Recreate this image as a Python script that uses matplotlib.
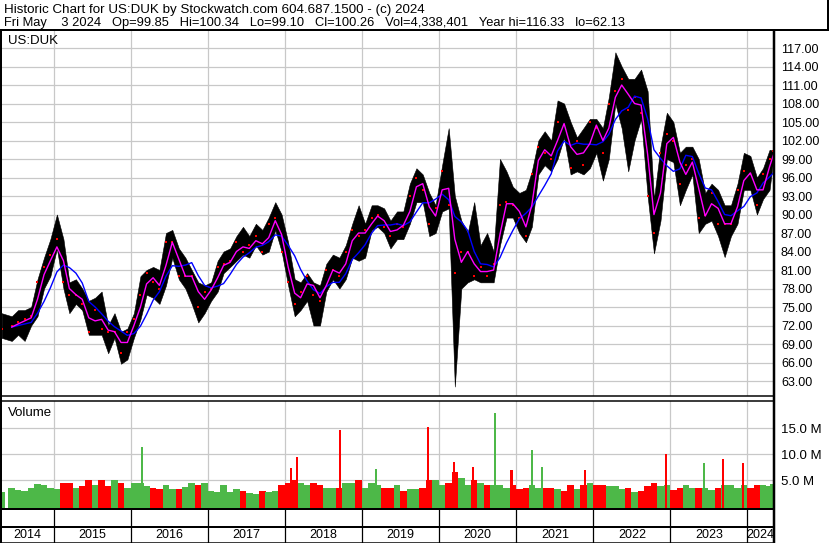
import numpy as np
import pandas as pd
import matplotlib
matplotlib.use("Agg")
import matplotlib.pyplot as plt
from matplotlib.lines import Line2D

plt.rcParams["font.family"] = ["Liberation Sans", "DejaVu Sans"]

W, H = 830, 543

# monthly high / low / close, May 2014 .. May 2024 (last = Fri May 3 2024)
month_hi = [74, 73.5, 74.5, 74.5, 75, 79.5, 83, 86, 90, 86, 79, 79.5,
            78, 76, 76.5, 77.5, 72, 74, 71, 71.5, 74, 80, 81, 81.5,
            81, 87, 87.5, 84.5, 83, 81, 79, 78.5, 79, 82.5, 84, 84.5,
            86.5, 88, 86.5, 88.5, 87.5, 89.5, 92, 90, 85.5, 79.5, 79, 80.5,
            79, 78.5, 82, 83.5, 83, 85, 88.5, 91.5, 88.5, 91.5, 91.5, 91,
            89, 90.5, 90.5, 95, 97.5, 96.5, 93.5, 91.5, 98, 104, 93, 89,
            87, 92, 85, 87, 84, 99, 97, 94.5, 93.5, 94, 97, 102,
            103.5, 102, 108.5, 108, 105, 102.5, 104, 105.5, 105.5, 104, 109, 116.3,
            114, 112, 112, 113.5, 110, 92.5, 101, 106.5, 105, 100, 101, 101,
            99, 93.5, 95, 94, 91.5, 91.5, 95, 100, 99.5, 96, 97.5, 100.5,
            100.34]
month_lo = [70, 69.5, 70.5, 69.5, 72, 73.5, 78, 80, 84.5, 78, 74, 75.5,
            74.5, 70.5, 70.5, 70.5, 67.5, 70, 65.8, 66.5, 70, 73, 77, 76.5,
            75.5, 78.5, 83, 79.5, 78, 75.5, 72.5, 74, 76, 77.5, 80.5, 81.5,
            82.5, 83.5, 83, 85, 83.5, 84, 87.5, 84, 78.5, 73.5, 74.5, 76,
            72, 72, 77.5, 79.5, 78, 79.5, 83, 82.5, 83, 87.5, 88, 87,
            84.5, 86, 86, 88.5, 92, 92, 86.5, 87, 90.5, 91, 62.1, 78,
            79, 79.5, 79, 79, 79, 85, 89.5, 89.5, 87, 85.5, 88, 96.5,
            98, 97, 99, 102.5, 96.5, 97, 96.5, 97.5, 100, 95.5, 99, 108,
            104, 97, 102, 105.5, 93, 83.7, 89, 99, 98.5, 91.5, 94, 96.5,
            87, 88.5, 89, 86.5, 83.1, 86.5, 88.5, 94, 94, 90, 92.5, 94,
            99.10]
month_cl = [71.5, 72, 72.5, 73, 73.5, 79, 81.5, 83.5, 86, 79, 77, 77,
            75.5, 71, 74.5, 71.5, 71, 71, 67.5, 71, 73, 77, 80.5, 79,
            78, 85.5, 85.5, 80, 80, 80, 75, 77.5, 78, 81.5, 82, 82.5,
            85.5, 84, 85, 86.5, 84, 88.5, 89.5, 84, 79, 75.5, 77.5, 80,
            77, 76, 81, 81, 80, 84, 87.5, 86.5, 87.5, 89.5, 90, 88,
            86.5, 88.5, 88, 93, 96, 94, 88.5, 91, 97, 91.5, 80.5, 84,
            84, 80, 81.5, 80, 82, 91.5, 92, 91.5, 89.5, 86.5, 96.5, 101,
            100, 99, 105, 104.5, 97.5, 102, 98, 105, 104, 100, 108, 110,
            112, 107, 109, 106.5, 93, 87, 100, 103, 102, 95, 98, 99,
            89.5, 90, 93.5, 88.5, 88.5, 88.5, 94, 97, 96.5, 91.5, 96.5, 99,
            100.26]
# typical daily volume per month, millions
month_vol = [2.8, 3.5, 3.2, 3.0, 3.5, 4.2, 4.0, 3.5, 3.3, 4.5, 4.5, 3.5,
             3.8, 5.0, 4.0, 5.0, 3.8, 5.0, 4.5, 3.5, 4.5, 4.5, 3.8, 3.5,
             3.3, 4.0, 3.3, 3.3, 3.6, 4.5, 4.0, 4.5, 3.0, 2.8, 4.0, 2.8,
             3.3, 3.0, 2.5, 2.4, 3.0, 2.7, 3.0, 4.0, 4.5, 5.0, 4.5, 4.0,
             4.5, 4.0, 3.5, 3.5, 3.5, 4.5, 4.5, 5.0, 3.5, 4.5, 4.0, 3.5,
             3.5, 4.0, 3.0, 3.3, 3.3, 3.5, 5.0, 5.0, 4.0, 4.5, 6.5, 5.5,
             4.0, 5.0, 4.5, 4.0, 4.0, 4.0, 3.5, 4.0, 3.3, 3.5, 4.0, 3.5,
             3.5, 3.5, 3.3, 3.0, 4.0, 3.3, 4.0, 4.5, 4.0, 4.0, 3.8, 3.8,
             3.3, 3.5, 2.8, 3.0, 3.8, 4.5, 3.8, 4.0, 3.2, 3.5, 4.0, 3.5,
             3.5, 3.5, 3.2, 3.5, 4.0, 4.0, 3.5, 4.0, 3.5, 4.0, 4.0, 3.8,
             4.34]
# single-day volume spikes
spike_dates = ["2016-02-22", "2018-01-30", "2018-02-26", "2018-09-16", "2019-03-09",
               "2019-11-09", "2020-03-13", "2020-06-10", "2020-09-21", "2020-12-09",
               "2021-03-14", "2021-05-04", "2021-11-21", "2022-12-12", "2023-06-11",
               "2023-09-09", "2023-12-09"]
spike_vols = [11.4, 7.4, 9.4, 14.7, 7.2, 15.3, 8.5, 7.6, 17.8, 6.9,
              10.7, 7.6, 6.9, 10.0, 8.2, 9.1, 8.2]
spike_up = [True, False, False, False, True, False, False, False, True, False,
            True, True, False, False, True, False, False]

years = list(range(2014, 2025))
price_ticks = list(range(63, 118, 3))
vol_ticks = [5, 10, 15]

line1 = "Historic Chart for US:DUK by Stockwatch.com 604.687.1500 - (c) 2024"
line2 = ("Fri May    3 2024   Op=99.85   Hi=100.34   Lo=99.10   Cl=100.26   "
         "Vol=4,338,401   Year hi=116.33   lo=62.13")

dates = pd.date_range("2014-05-01", periods=120, freq="MS") + pd.Timedelta(days=14)
dates = dates.insert(120, pd.Timestamp("2024-05-03"))
dates = dates.delete(0).insert(0, pd.Timestamp("2014-04-28"))

cl = pd.Series(month_cl)
ma_fast = cl.rolling(2, min_periods=2).mean()
ma_slow = cl.rolling(5, min_periods=2).mean()

x0d, x1d = pd.Timestamp("2014-04-25"), pd.Timestamp("2024-05-06")
bounds = [pd.Timestamp(f"{y}-01-01") for y in years[1:]]

GRID = "#c8c8c8"
RED, GREEN = "#ff0000", "#4db848"
FS = 9


def rect(x0, y0, x1, y1):
    return [x0 / W, 1 - y1 / H, (x1 - x0) / W, (y1 - y0) / H]


def fline(xs, ys, lw):
    fig.add_artist(Line2D([x / W for x in xs], [1 - y / H for y in ys],
                          color="k", lw=lw * 0.72, solid_capstyle="butt"))


fig = plt.figure(figsize=(W / 100, H / 100), dpi=100)
ax = fig.add_axes(rect(1, 31, 774, 396))
axv = fig.add_axes(rect(1, 401, 774, 508))
axy = fig.add_axes(rect(1, 509, 774, 543))

for a in (ax, axv, axy):
    a.set_xlim(x0d, x1d)
    for s in a.spines.values():
        s.set_visible(False)
    a.set_xticks(bounds)
    a.tick_params(axis="x", length=0, labelbottom=False)

# ---- price panel
ax.set_ylim(60.57, 119.76)
ax.set_yticks(price_ticks)
ax.set_yticklabels([f"{v:.2f}" for v in price_ticks])
ax.yaxis.tick_right()
ax.tick_params(axis="y", length=0, pad=5, labelsize=FS)
ax.grid(color=GRID, lw=0.9)
ax.set_axisbelow(True)
ax.fill_between(dates, month_lo, month_hi, color="k", lw=0.4, zorder=2)
ax.plot(dates, month_cl, "s", color=RED, ms=1.6, mew=0, zorder=3)
ax.plot(dates, ma_slow, color="#0000ff", lw=1.0, zorder=4)
ax.plot(dates, ma_fast, color="#ff00ff", lw=1.0, zorder=5)
ax.text(7 / 773, 1 - 10 / 365, "US:DUK", transform=ax.transAxes,
        va="center", ha="left", fontsize=9.5)

# ---- volume panel
axv.set_ylim(-0.35, 20.2)
axv.set_yticks(vol_ticks)
axv.set_yticklabels([f"{v:.1f} M" for v in vol_ticks])
axv.yaxis.tick_right()
axv.tick_params(axis="y", length=0, pad=5, labelsize=9.5)
axv.grid(color=GRID, lw=0.9)
axv.set_axisbelow(True)
vcol = [GREEN if k == 0 or month_cl[k] >= month_cl[k - 1] else RED for k in range(len(month_cl))]
axv.bar(dates, np.array(month_vol) + 0.35, bottom=-0.35, width=31, color=vcol,
        lw=0, zorder=2)
axv.bar(pd.to_datetime(spike_dates), np.array(spike_vols) + 0.35, bottom=-0.35, width=10,
        color=[GREEN if u else RED for u in spike_up], lw=0, antialiased=False, zorder=3)
axv.text(7 / 773, 1 - 12 / 107, "Volume", transform=axv.transAxes,
         va="center", ha="left", fontsize=9.5)

# ---- year strip
axy.set_ylim(0, 34)
axy.set_yticks([])
axy.vlines(bounds, 0, 34, color="k", lw=0.9)
edges = [x0d] + bounds + [x1d]
for y, a, b in zip(years, edges[:-1], edges[1:]):
    axy.text(a + (b - a) / 2, 8, str(y), ha="center", va="center", fontsize=FS)

# ---- header and panel frames
fig.text(4 / W, 1 - 10 / H, line1, ha="left", va="center", fontsize=9.6)
fig.text(4 / W, 1 - 23 / H, line2, ha="left", va="center", fontsize=9.25)
fline([0, 829], [30, 30], 2)
fline([828, 828], [0, 30], 2)
fline([1, 1], [30, 543], 2)
fline([774, 774], [30, 543], 2.5)
fline([0, 774], [396, 396], 1.5)
fline([0, 774], [400.5, 400.5], 1.5)
fline([0, 774], [509, 509], 2)
fline([0, 774], [527, 527], 2)
fline([0, 774], [542.5, 542.5], 1.5)

fig.savefig("out.png", dpi=100)
